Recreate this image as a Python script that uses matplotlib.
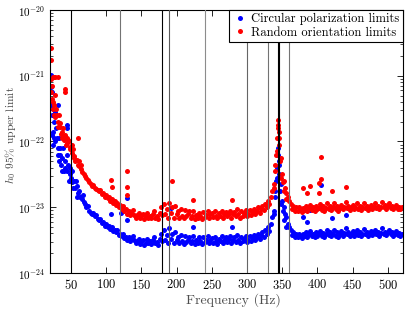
import numpy as np
import matplotlib
matplotlib.use('Agg')
import matplotlib.pyplot as plt

plt.rcParams['font.family'] = 'serif'
plt.rcParams['font.serif'] = ['cmr10', 'DejaVu Serif']
plt.rcParams['mathtext.fontset'] = 'cm'
plt.rcParams['axes.formatter.use_mathtext'] = True

# frequency bins (Hz), one upper limit per 2 Hz bin, log10(h0)
freq = np.arange(22, 521, 2)

blue_log = [
    -21.45, -21.85, -21.70, -22.00, -21.95, -22.20, -22.10, -22.35, -22.25, -22.45,
    -22.30, -22.45, -22.35, -22.50, -22.55, -22.62, -22.60, -22.70, -22.68, -22.78,
    -22.75, -22.85, -22.88, -22.92, -22.95, -23.00, -22.98, -23.05, -23.08, -23.10,
    -23.08, -23.14, -23.12, -23.18, -23.20, -23.18, -23.24, -23.22, -23.28, -23.26,
    -23.30, -23.28, -23.33, -23.30, -23.36, -23.34, -23.38, -23.35, -23.42, -23.40,
    -23.44, -23.40, -23.47, -23.45, -23.50, -23.46, -23.52, -23.48, -23.44, -23.50,
    -23.55, -23.52, -23.48, -23.56, -23.53, -23.50, -23.57, -23.54, -23.49, -23.55,
    -23.52, -23.56, -23.50, -23.45, -23.55, -23.53, -23.57, -23.48, -23.40, -23.52,
    -23.35, -23.50, -23.42, -23.55, -23.32, -23.48, -23.40, -23.55, -23.38, -23.50,
    -23.45, -23.55, -23.42, -23.52, -23.56, -23.44, -23.53, -23.50, -23.45, -23.55,
    -23.52, -23.43, -23.56, -23.50, -23.54, -23.46, -23.52, -23.56, -23.45, -23.53,
    -23.50, -23.44, -23.55, -23.50, -23.47, -23.54, -23.45, -23.52, -23.56, -23.48,
    -23.52, -23.44, -23.55, -23.50, -23.46, -23.53, -23.49, -23.44, -23.55, -23.50,
    -23.46, -23.53, -23.42, -23.50, -23.55, -23.45, -23.52, -23.48, -23.43, -23.53,
    -23.50, -23.44, -23.52, -23.47, -23.42, -23.50, -23.45, -23.40, -23.48, -23.42,
    -23.38, -23.45, -23.35, -23.40, -23.30, -23.36, -23.25, -23.15, -23.05, -22.85,
    -22.55, -22.20, -22.35, -22.65, -22.90, -23.00, -23.10, -23.15, -23.25, -23.30,
    -23.35, -23.42, -23.38, -23.45, -23.40, -23.46, -23.40, -23.44, -23.47, -23.41,
    -23.44, -23.38, -23.46, -23.41, -23.36, -23.44, -23.40, -23.46, -23.38, -23.43,
    -23.41, -23.36, -23.44, -23.39, -23.46, -23.41, -23.34, -23.42, -23.38, -23.44,
    -23.40, -23.34, -23.43, -23.38, -23.45, -23.41, -23.36, -23.43, -23.39, -23.32,
    -23.41, -23.38, -23.44, -23.40, -23.36, -23.43, -23.39, -23.34, -23.42, -23.38,
    -23.44, -23.40, -23.33, -23.41, -23.38, -23.44, -23.40, -23.36, -23.42, -23.39,
    -23.34, -23.41, -23.38, -23.43, -23.39, -23.32, -23.40, -23.37, -23.42, -23.38,
    -23.34, -23.41, -23.38, -23.43, -23.40, -23.36, -23.42, -23.39, -23.43, -23.40,
]

red_log = [
    -21.25, -21.50, -21.45, -21.62, -21.60, -21.78, -21.72, -21.88, -21.85, -21.98,
    -21.92, -22.02, -21.98, -22.08, -22.10, -22.18, -22.22, -22.30, -22.28, -22.36,
    -22.38, -22.42, -22.46, -22.50, -22.52, -22.56, -22.58, -22.62, -22.64, -22.68,
    -22.66, -22.70, -22.72, -22.74, -22.76, -22.74, -22.80, -22.78, -22.84, -22.82,
    -22.86, -22.84, -22.90, -22.88, -22.93, -22.90, -22.96, -22.93, -22.99, -22.97,
    -23.02, -22.98, -23.06, -23.03, -23.10, -23.05, -23.12, -23.08, -23.04, -23.12,
    -23.16, -23.12, -23.08, -23.17, -23.13, -23.10, -23.18, -23.14, -23.09, -23.16,
    -23.13, -23.17, -23.10, -23.05, -23.16, -23.14, -23.18, -23.08, -23.00, -23.12,
    -22.95, -23.10, -23.02, -23.16, -22.93, -23.08, -23.00, -23.16, -22.98, -23.10,
    -23.05, -23.16, -23.03, -23.13, -23.17, -23.04, -23.14, -23.10, -23.05, -23.16,
    -23.14, -23.05, -23.18, -23.12, -23.16, -23.08, -23.14, -23.18, -23.07, -23.15,
    -23.12, -23.05, -23.17, -23.11, -23.08, -23.15, -23.06, -23.13, -23.17, -23.09,
    -23.13, -23.05, -23.16, -23.11, -23.07, -23.14, -23.10, -23.05, -23.16, -23.11,
    -23.07, -23.14, -23.03, -23.11, -23.16, -23.06, -23.13, -23.09, -23.04, -23.14,
    -23.10, -23.04, -23.12, -23.07, -23.02, -23.10, -23.05, -23.00, -23.08, -23.02,
    -22.98, -23.04, -22.95, -23.00, -22.90, -22.95, -22.85, -22.75, -22.65, -22.45,
    -22.15, -21.80, -21.95, -22.25, -22.50, -22.60, -22.70, -22.78, -22.85, -22.90,
    -22.95, -23.02, -22.98, -23.05, -23.00, -23.06, -23.00, -23.04, -23.07, -23.01,
    -23.04, -22.98, -23.06, -23.01, -22.96, -23.04, -23.00, -23.06, -22.98, -23.03,
    -23.01, -22.95, -23.04, -22.98, -23.05, -23.01, -22.94, -23.02, -22.98, -23.04,
    -23.00, -22.94, -23.03, -22.98, -23.05, -23.01, -22.96, -23.03, -22.99, -22.92,
    -23.01, -22.98, -23.04, -23.00, -22.96, -23.03, -22.99, -22.94, -23.02, -22.98,
    -23.04, -23.00, -22.93, -23.01, -22.98, -23.04, -23.00, -22.96, -23.02, -22.99,
    -22.94, -23.01, -22.98, -23.03, -22.99, -22.92, -23.00, -22.97, -23.02, -22.98,
    -22.94, -23.01, -22.98, -23.03, -23.00, -22.96, -23.02, -22.99, -23.03, -23.00,
]

# extra bins: wide spread at low frequency, outliers, and the 345 Hz resonance
blue_extra_f = [21, 21, 21.5, 22.5, 23, 23.5, 24.5, 25, 26.5, 27, 29, 31, 32, 33, 33,
                35, 37, 39, 41, 44, 45, 45, 47, 49, 51, 53, 57, 59, 63, 67,
                107, 121, 122, 130, 130, 192, 224, 279, 380, 385, 390, 405, 405, 421, 441,
                338, 340, 341, 343, 344, 345, 346, 347, 349, 351, 353, 356]
blue_extra_log = [-20.99, -21.17, -21.15, -21.25, -21.6, -21.9, -21.5, -22.05, -21.95, -21.55,
                  -21.8, -22.1, -21.44, -21.95, -22.3, -22.2, -22.45, -22.1, -22.4, -22.2,
                  -21.75, -21.8, -22.6, -22.4, -22.45, -22.7, -22.6, -22.85, -22.85, -22.82,
                  -23.1, -23.08, -23.0, -22.86, -23.19, -23.01, -23.3, -23.3, -23.15, -23.22,
                  -23.04, -22.66, -23.0, -23.16, -23.12,
                  -23.1, -22.75, -22.6, -22.4, -22.1, -22.3, -22.5, -22.75, -22.95, -23.05,
                  -23.2, -23.3]

red_extra_f = [21, 21.5, 22, 23, 23.5, 24.5, 25, 25.5, 26, 27, 28, 29, 31, 32, 33, 35,
               37, 39, 41, 42, 42, 43, 45, 47, 49, 51, 53, 55, 60, 62, 64,
               107, 109, 130, 130, 130, 194, 224, 279, 380, 385, 390, 403, 403, 405, 405,
               421, 441,
               338, 340, 341, 343, 344, 344.5, 345, 346, 347, 349, 351, 353, 356]
red_extra_log = [-20.58, -20.76, -21.05, -21.35, -21.15, -21.4, -21.02, -21.02, -21.6, -21.3,
                 -21.02, -21.5, -21.7, -21.02, -21.6, -21.78, -21.95, -21.8, -21.9, -21.2,
                 -21.25, -22.05, -21.95, -22.0, -22.12, -22.05, -22.12, -22.25, -21.95, -22.3,
                 -22.35,
                 -22.59, -22.69, -22.45, -22.69, -22.81, -22.6, -22.89, -22.89, -22.71, -22.78,
                 -22.68, -22.63, -22.78, -22.24, -22.57, -22.75, -22.69,
                 -22.7, -22.35, -22.2, -21.95, -21.68, -21.75, -21.85, -22.05, -22.3, -22.55,
                 -22.62, -22.75, -22.88]

# instrumental lines marked on the plot (Hz)
line_freqs = [50, 120, 180, 190, 240, 300, 330, 344, 346, 360]
line_colors = ['k', '0.45', 'k', '0.35', '0.55', '0.4', '0.45', 'k', 'k', '0.45']

fig = plt.figure(figsize=(4.15, 3.12), dpi=100)
ax = fig.add_axes([0.12, 0.125, 0.85, 0.843])

bf = np.concatenate([freq, blue_extra_f])
bv = 10.0 ** np.concatenate([blue_log, blue_extra_log])
rf = np.concatenate([freq, red_extra_f])
rv = 10.0 ** np.concatenate([red_log, red_extra_log])

ax.plot(bf, bv, 'o', color='#0000ff', ms=3.6, mew=0, label='Circular polarization limits', zorder=2)
ax.plot(rf, rv, 'o', color='#ff0000', ms=3.6, mew=0, label='Random orientation limits', zorder=2)

for f, c in zip(line_freqs, line_colors):
    ax.axvline(f, color=c, lw=0.8, zorder=3)

ax.set_yscale('log')
ax.set_xlim(20, 521)
ax.set_ylim(1e-24, 1e-20)
ax.set_xticks(range(50, 501, 50))
ax.tick_params(which='both', direction='in', top=True, right=True)
ax.tick_params(axis='x', labelsize=9)
ax.tick_params(axis='y', labelsize=8)
ax.tick_params(which='major', length=4, width=0.6)
ax.tick_params(which='minor', length=2, width=0.5)
for s in ax.spines.values():
    s.set_linewidth(0.8)

ax.set_xlabel('Frequency (Hz)', fontsize=10, color='0.3')
ax.xaxis.set_label_coords(0.52, -0.075)
ax.set_ylabel('$h_0$ 95% upper limit', fontsize=8.3, color='0.3')
ax.yaxis.set_label_coords(-0.09, 0.525)

leg = ax.legend(loc='upper right', numpoints=1, fontsize=9, fancybox=False,
                borderaxespad=0, handletextpad=0.3, borderpad=0.25, labelspacing=0.1,
                handlelength=1.2, framealpha=1)
leg.get_frame().set_edgecolor('k')
leg.get_frame().set_linewidth(0.8)

fig.savefig('out.png', dpi=100)
